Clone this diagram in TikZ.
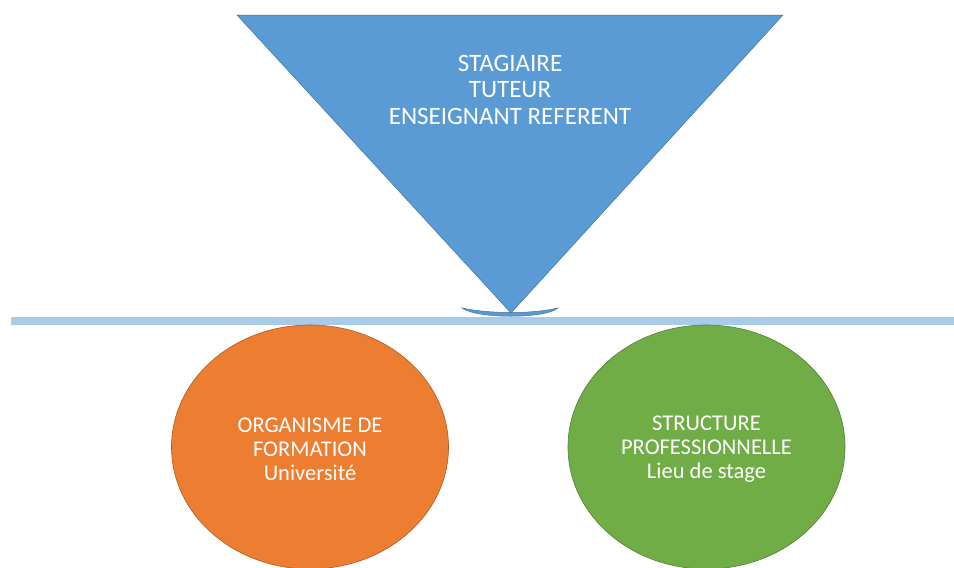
\documentclass[tikz,border=0pt]{standalone}
\usepackage{fontspec}
\setmainfont{Carlito}
\usetikzlibrary{shapes.geometric}
\definecolor{triblue}{HTML}{5B9BD5}
\definecolor{triedge}{HTML}{41719C}
\definecolor{barblue}{HTML}{A9CBEA}
\definecolor{orfill}{HTML}{ED7D31}
\definecolor{oredge}{HTML}{AE5A21}
\definecolor{grfill}{HTML}{70AD47}
\definecolor{gredge}{HTML}{507E32}
\tikzset{
  lbl/.style={text=white, align=center, font=\fontsize{25}{26.5}\selectfont},
  ellbl/.style={text=white, align=center, font=\fontsize{22.5}{24}\selectfont},
  blob/.style={ellipse, draw, line width=0.6pt, minimum width=277pt, minimum height=244pt, inner sep=0pt}
}
\begin{document}
\begin{tikzpicture}[x=1pt,y=-1pt]
\useasboundingbox (0,0) rectangle (954,568);
% bar
\fill[barblue] (11,317) rectangle (954,325);
% triangle
\draw[triedge, fill=triblue, line width=0.5pt] (237,15) -- (783,15) -- (511,313) -- cycle;
% curved base under apex
\draw[triedge, fill=triblue, line width=0.5pt] (462,308) .. controls (490,314) and (532,314) .. (558,308)
  .. controls (545,319) and (477,319) .. cycle;
\node[lbl] (top) at (510,89.5) {STAGIAIRE\\TUTEUR\\ENSEIGNANT REFERENT};
% ellipses
\begin{scope}
\clip (0,0) rectangle (954,568);
\node[blob, draw=oredge, fill=orfill] (org) at (310,447) {};
\node[blob, draw=gredge, fill=grfill] (str) at (706.5,447) {};
\end{scope}
\node[ellbl] (orgt) at (310,449) {ORGANISME DE\\FORMATION\\Université};
\node[ellbl] (strt) at (706.5,449) {STRUCTURE\\PROFESSIONNELLE\\Lieu de stage};
\end{tikzpicture}
\end{document}
